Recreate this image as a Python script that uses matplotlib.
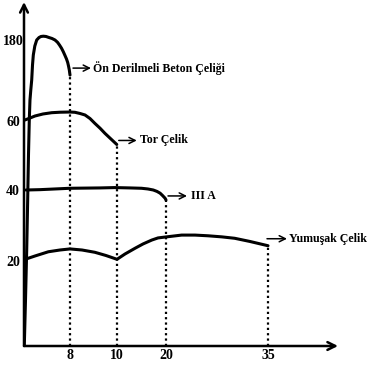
import numpy as np
import matplotlib
matplotlib.use("Agg")
import matplotlib.pyplot as plt
import matplotlib.transforms as mtransforms

# strain (x) / stress (y), one pair of lists per steel
strain_onder = [0.05, 0.26, 0.47, 0.64, 0.78, 0.92, 1.04, 1.18, 1.34, 1.48, 1.62, 1.88,
                2.21, 2.61, 2.96, 3.36, 3.83, 4.35, 4.87, 5.39, 5.83, 6.17, 6.52,
                6.83, 7.13, 7.39, 7.6, 7.74, 7.88, 8.0]
stress_onder = [0, 10.8, 23.1, 37.2, 50.1, 61.5, 91.1, 105.9, 120.7, 143, 157.8, 171.1,
                180, 182.6, 183.7, 184.0, 183.7, 182.6, 181.6, 180, 176.6, 172.6, 167.9,
                162.7, 157.0, 151.9, 146.7, 141.5, 135.6, 128]

strain_tor = [0.17, 1.04, 1.91, 3.3, 4.82, 6.26, 8.0, 8.21, 8.43, 8.64, 8.85, 9.06,
              9.28, 9.49, 9.74, 9.99]
stress_tor = [61.5, 64.4, 67.4, 70.4, 72.3, 73.0, 73.3, 72.9, 71.1, 68.9, 63.7, 59.3,
              57.9, 56.4, 54.8, 53.2]

strain_3a = [0.35, 2.78, 8.0, 9.28, 9.9, 12.65, 15.0, 16.3, 17.4, 18.16, 18.8, 19.29,
             19.8, 20.0]
stress_3a = [40.0, 40.1, 40.5, 40.6, 40.7, 40.6, 40.5, 40.3, 40.0, 39.6, 39.1, 38.45,
             37.7, 37.2]

strain_yum = [0.35, 1.91, 4.23, 6.26, 8.0, 8.51, 9.06, 9.53, 10.0, 11.63, 13.7, 15.31,
              17.1, 18.37, 20.1, 22.3, 24.26, 26.2, 28.2, 30.1, 32.35, 35.0]
stress_yum = [20.56, 21.41, 22.6, 23.1, 23.4, 23.1, 22.45, 21.55, 20.48, 21.97, 23.6, 24.8,
              25.9, 26.5, 26.8, 27.3, 27.3, 27.1, 26.8, 26.4, 25.5, 24.3]

names = ["Ön Derilmeli Beton Çeliği", "Tor Çelik", "III A", "Yumuşak Çelik"]
x_ticks = [8, 10, 20, 35]
y_ticks = [20, 40, 60, 180]

# the sketch is not drawn to scale: piecewise axis breaks
x_knots = [0, 8, 10, 20, 35, 60]
x_span = [0, 46, 93, 142, 244, 414]
y_knots = [0, 20, 40, 60, 180, 260]
y_span = [0, 85, 156, 225, 306, 382]

font = dict(family="Liberation Serif", fontweight="bold", color="black")

fig = plt.figure(figsize=(3.69, 3.67), dpi=100)
ax = fig.add_axes([24 / 369, 21 / 367, 314 / 369, 344 / 367])

ax.set_xscale("function", functions=(lambda v: np.interp(v, x_knots, x_span),
                                     lambda v: np.interp(v, x_span, x_knots)))
ax.set_yscale("function", functions=(lambda v: np.interp(v, y_knots, y_span),
                                     lambda v: np.interp(v, y_span, y_knots)))
ax.set_xlim(0, 35 + 70 / 6.8)
ax.set_ylim(0, 180 + 38 / 0.95)

curves = [(strain_onder, stress_onder), (strain_tor, stress_tor),
          (strain_3a, stress_3a), (strain_yum, stress_yum)]
for xs, ys in curves:
    ax.plot(xs, ys, color="black", lw=2.2, solid_capstyle="round",
            solid_joinstyle="round")
    ax.vlines(xs[-1], 0, ys[-1], color="black", lw=1.6, linestyles=(0, (1, 1.4)))

# little arrows + names at the end of each curve (offsets in pixels)
label_pos = [(3, 7, 18, 2), (2, 4, 18, 3), (2, 4, 19, 4), (-1, 7, 20, 2)]
for (xs, ys), name, (dx, dy, ln, gap) in zip(curves, names, label_pos):
    tail = mtransforms.offset_copy(ax.transData, fig=fig, x=dx, y=dy, units="dots")
    head = mtransforms.offset_copy(ax.transData, fig=fig, x=dx + ln, y=dy, units="dots")
    txt = mtransforms.offset_copy(ax.transData, fig=fig, x=dx + ln + gap, y=dy, units="dots")
    ax.annotate("", xy=(xs[-1], ys[-1]), xycoords=head,
                xytext=(xs[-1], ys[-1]), textcoords=tail,
                arrowprops=dict(arrowstyle="->", lw=1.1, color="black",
                                shrinkA=0, shrinkB=0, mutation_scale=11),
                annotation_clip=False)
    ax.text(xs[-1], ys[-1], name, transform=txt, ha="left", va="center",
            fontsize=8.6, **font)

# axes drawn as arrows
for spine in ax.spines.values():
    spine.set_visible(False)
arrow = dict(arrowstyle="->", lw=1.8, color="black", shrinkA=0, shrinkB=0,
             mutation_scale=14)
ax.annotate("", xy=(1, 0), xytext=(0, 0), xycoords="axes fraction", arrowprops=arrow)
ax.annotate("", xy=(0, 1), xytext=(0, 0), xycoords="axes fraction", arrowprops=arrow)

ax.set_xticks(x_ticks)
ax.set_xticklabels([str(t) for t in x_ticks], fontsize=10, **font)
ax.set_yticks(y_ticks)
ax.set_yticklabels([str(t) for t in y_ticks], fontsize=10, ha="center", **font)
ax.tick_params(axis="x", length=0, pad=2)
ax.tick_params(axis="y", length=0, pad=8)
ax.minorticks_off()

fig.savefig("out.png", dpi=100)
